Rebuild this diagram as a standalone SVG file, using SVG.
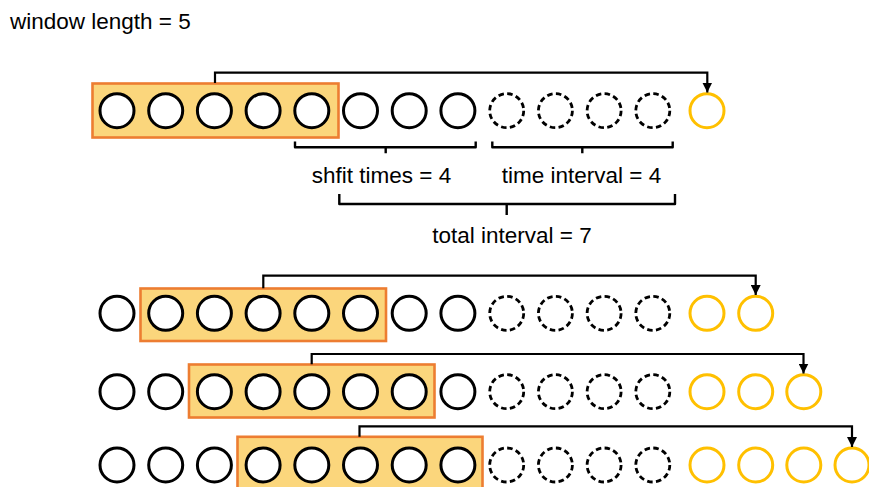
<svg xmlns="http://www.w3.org/2000/svg" width="869" height="487" viewBox="0 0 869 487">
<style>
.c{fill:#fff;stroke:#000;stroke-width:3}
.d{fill:#fff;stroke:#000;stroke-width:2.8;stroke-dasharray:5.5 3.4}
.y{fill:#fff;stroke:#FFC000;stroke-width:3}
.w{fill:#FBD67C;stroke:#ED7D31;stroke-width:2.6}
.k{fill:none;stroke:#000;stroke-width:2.2}
.b{fill:none;stroke:#000;stroke-width:2.4;stroke-linejoin:round}
text{font-family:"Liberation Sans",Arial,sans-serif;font-size:22.5px;fill:#000}
</style>
<defs>
<marker id="ah" markerUnits="userSpaceOnUse" markerWidth="11" markerHeight="10" refX="10" refY="5" orient="auto" viewBox="0 0 11 10">
<path d="M0,0 L10,5 L0,10 Z" fill="#000"/>
</marker>
</defs>
<rect width="869" height="487" fill="#fff"/>
<g id="title"><text x="10" y="29">window length = 5</text></g>

<g id="row1">
<rect class="w" x="92.5" y="83.5" width="246" height="54"/>
<circle class="c" cx="117" cy="110.7" r="17"/>
<circle class="c" cx="165.7" cy="110.7" r="17"/>
<circle class="c" cx="214.4" cy="110.7" r="17"/>
<circle class="c" cx="263.1" cy="110.7" r="17"/>
<circle class="c" cx="311.8" cy="110.7" r="17"/>
<circle class="c" cx="360.5" cy="110.7" r="17"/>
<circle class="c" cx="409.2" cy="110.7" r="17"/>
<circle class="c" cx="457.9" cy="110.7" r="17"/>
<circle class="d" cx="506.7" cy="110.7" r="17"/>
<circle class="d" cx="555.4" cy="110.7" r="17"/>
<circle class="d" cx="604.1" cy="110.7" r="17"/>
<circle class="d" cx="652.8" cy="110.7" r="17"/>
<circle class="y" cx="707" cy="110.7" r="17"/>
</g>

<g id="row2">
<rect class="w" x="140.5" y="288.5" width="245.5" height="52.5"/>
<circle class="c" cx="117" cy="313.3" r="17"/>
<circle class="c" cx="165.7" cy="313.3" r="17"/>
<circle class="c" cx="214.4" cy="313.3" r="17"/>
<circle class="c" cx="263.1" cy="313.3" r="17"/>
<circle class="c" cx="311.8" cy="313.3" r="17"/>
<circle class="c" cx="360.5" cy="313.3" r="17"/>
<circle class="c" cx="409.2" cy="313.3" r="17"/>
<circle class="c" cx="457.9" cy="313.3" r="17"/>
<circle class="d" cx="506.7" cy="313.3" r="17"/>
<circle class="d" cx="555.4" cy="313.3" r="17"/>
<circle class="d" cx="604.1" cy="313.3" r="17"/>
<circle class="d" cx="652.8" cy="313.3" r="17"/>
<circle class="y" cx="707" cy="313.3" r="17"/>
<circle class="y" cx="755.7" cy="313.3" r="17"/>
</g>

<g id="row3">
<rect class="w" x="189" y="364.5" width="245.5" height="53"/>
<circle class="c" cx="117" cy="391.7" r="17"/>
<circle class="c" cx="165.7" cy="391.7" r="17"/>
<circle class="c" cx="214.4" cy="391.7" r="17"/>
<circle class="c" cx="263.1" cy="391.7" r="17"/>
<circle class="c" cx="311.8" cy="391.7" r="17"/>
<circle class="c" cx="360.5" cy="391.7" r="17"/>
<circle class="c" cx="409.2" cy="391.7" r="17"/>
<circle class="c" cx="457.9" cy="391.7" r="17"/>
<circle class="d" cx="506.7" cy="391.7" r="17"/>
<circle class="d" cx="555.4" cy="391.7" r="17"/>
<circle class="d" cx="604.1" cy="391.7" r="17"/>
<circle class="d" cx="652.8" cy="391.7" r="17"/>
<circle class="y" cx="707" cy="391.7" r="17"/>
<circle class="y" cx="755.7" cy="391.7" r="17"/>
<circle class="y" cx="803.8" cy="391.7" r="17"/>
</g>

<g id="row4">
<rect class="w" x="237.5" y="436.8" width="245" height="60"/>
<circle class="c" cx="117" cy="465" r="17"/>
<circle class="c" cx="165.7" cy="465" r="17"/>
<circle class="c" cx="214.4" cy="465" r="17"/>
<circle class="c" cx="263.1" cy="465" r="17"/>
<circle class="c" cx="311.8" cy="465" r="17"/>
<circle class="c" cx="360.5" cy="465" r="17"/>
<circle class="c" cx="409.2" cy="465" r="17"/>
<circle class="c" cx="457.9" cy="465" r="17"/>
<circle class="d" cx="506.7" cy="465" r="17"/>
<circle class="d" cx="555.4" cy="465" r="17"/>
<circle class="d" cx="604.1" cy="465" r="17"/>
<circle class="d" cx="652.8" cy="465" r="17"/>
<circle class="y" cx="707" cy="465" r="17"/>
<circle class="y" cx="755.7" cy="465" r="17"/>
<circle class="y" cx="803.8" cy="465" r="17"/>
<circle class="y" cx="852" cy="465" r="17"/>
</g>

<g id="connectors">
<path class="k" d="M215,83 V72.7 H707.3 V92.5" marker-end="url(#ah)"/>
<path class="k" d="M263.3,288.3 V275.7 H755.7 V295" marker-end="url(#ah)"/>
<path class="k" d="M311.7,364.3 V354 H803.5 V373.5" marker-end="url(#ah)"/>
<path class="k" d="M359.5,436.7 V426.3 H852 V447" marker-end="url(#ah)"/>
</g>

<g id="brackets">
<path class="b" d="M295,141.5 V147.3 H475.7 V141.5 M385.7,147.3 V153.3"/>
<path class="b" d="M492.3,141.5 V147.3 H672.7 V141.5 M582.3,147.3 V153.3"/>
<path class="b" d="M339.3,194 V204 H675 V194 M506.7,204 V215"/>
</g>

<g id="labels">
<text x="381.5" y="182.7" text-anchor="middle">shfit times = 4</text>
<text x="581.5" y="182.7" text-anchor="middle">time interval = 4</text>
<text x="512" y="243.3" text-anchor="middle">total interval = 7</text>
</g>
</svg>
